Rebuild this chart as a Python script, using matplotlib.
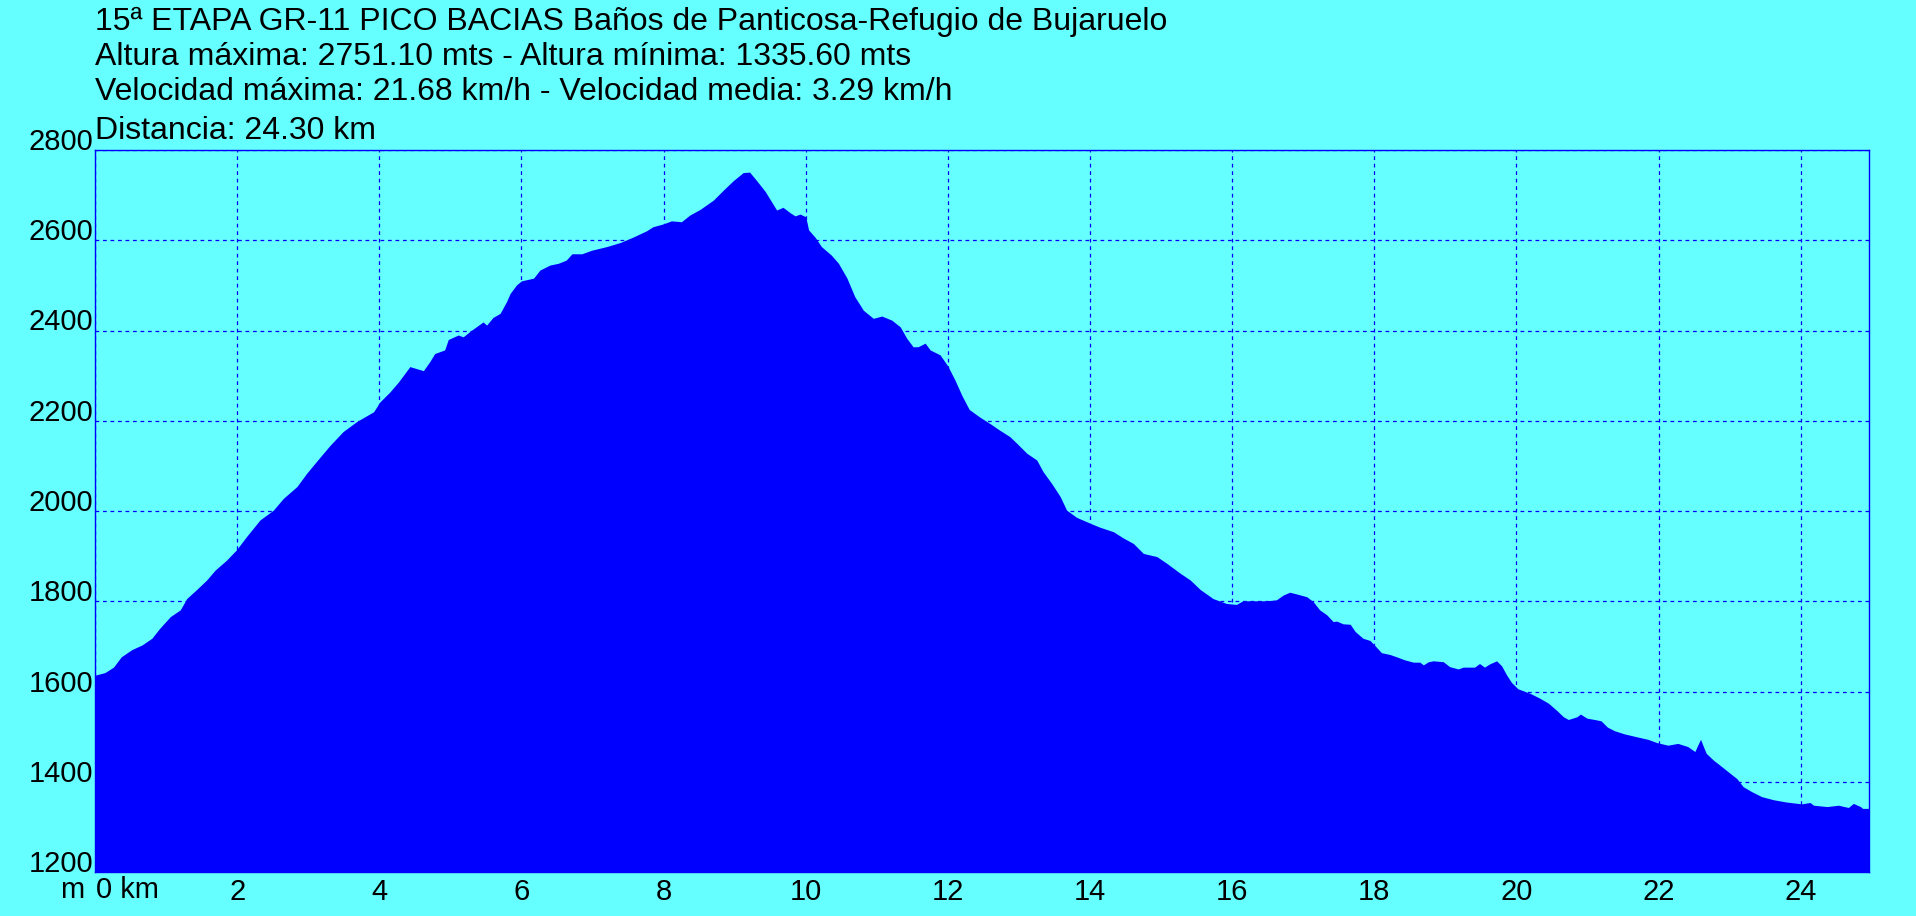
"""
Perfil de elevacion de la 15a etapa del GR-11 (Pico Bacias),
Banos de Panticosa - Refugio de Bujaruelo.
"""

import numpy as np
import matplotlib
matplotlib.use("Agg")
import matplotlib.pyplot as plt

# ---------------------------------------------------------------------------
# Data
# ---------------------------------------------------------------------------

dist_km = [
    0.00, 0.14, 0.26, 0.37, 0.52, 0.66, 0.80, 0.91, 1.06, 1.20, 1.29, 1.43,
    1.57, 1.69, 1.85, 1.99, 2.13, 2.32, 2.51, 2.65, 2.84, 2.98, 3.17, 3.31,
    3.49, 3.68, 3.92, 4.01, 4.15, 4.27, 4.43, 4.62, 4.71, 4.78, 4.92, 4.97,
    5.11, 5.18, 5.30, 5.46, 5.51, 5.60, 5.70, 5.79, 5.84, 5.93, 6.00, 6.17,
    6.26, 6.40, 6.52, 6.63, 6.71, 6.85, 6.99, 7.20, 7.39, 7.57, 7.76, 7.85,
    7.99, 8.11, 8.25, 8.37, 8.51, 8.70, 8.84, 8.98, 9.12, 9.21, 9.31, 9.43,
    9.52, 9.59, 9.68, 9.78, 9.85, 9.92, 10.00, 10.04, 10.13, 10.22, 10.36,
    10.46, 10.58, 10.69, 10.81, 10.95, 11.07, 11.21, 11.33, 11.42, 11.51,
    11.58, 11.68, 11.75, 11.89, 12.00, 12.10, 12.20, 12.30, 12.45, 12.60,
    12.73, 12.87, 12.97, 13.11, 13.25, 13.34, 13.46, 13.58, 13.67, 13.81,
    14.00, 14.14, 14.33, 14.47, 14.61, 14.75, 14.94, 15.08, 15.26, 15.41,
    15.55, 15.73, 15.92, 16.06, 16.15, 16.48, 16.62, 16.72, 16.81, 16.91,
    17.05, 17.14, 17.23, 17.33, 17.42, 17.47, 17.56, 17.66, 17.73, 17.84,
    17.94, 18.03, 18.10, 18.22, 18.31, 18.43, 18.55, 18.64, 18.69, 18.76,
    18.83, 18.97, 19.06, 19.18, 19.25, 19.41, 19.48, 19.55, 19.62, 19.72,
    19.79, 19.86, 19.93, 20.02, 20.19, 20.33, 20.45, 20.56, 20.66, 20.73,
    20.85, 20.90, 20.99, 21.13, 21.19, 21.28, 21.38, 21.52, 21.71, 21.85,
    21.97, 22.13, 22.27, 22.41, 22.51, 22.55, 22.59, 22.63, 22.67, 22.77,
    22.86, 22.98, 23.10, 23.19, 23.31, 23.45, 23.62, 23.80, 24.01, 24.13,
    24.18, 24.37, 24.53, 24.67, 24.74, 24.84, 24.87, 24.96,
]

elev_m = [
    1636, 1642, 1654, 1677, 1693, 1703, 1718, 1740, 1766, 1781, 1806, 1826,
    1847, 1869, 1891, 1914, 1943, 1980, 2002, 2028, 2054, 2084, 2120, 2146,
    2176, 2198, 2220, 2242, 2264, 2286, 2320, 2311, 2331, 2349, 2357, 2380,
    2390, 2386, 2401, 2419, 2412, 2429, 2438, 2464, 2482, 2501, 2510, 2516,
    2534, 2545, 2549, 2556, 2570, 2570, 2578, 2586, 2595, 2607, 2621, 2630,
    2636, 2643, 2641, 2656, 2668, 2689, 2711, 2732, 2750, 2751, 2732, 2708,
    2685, 2667, 2673, 2661, 2654, 2658, 2652, 2623, 2607, 2586, 2567,
    2549, 2516, 2475, 2445, 2427, 2432, 2423, 2408, 2383, 2364,
    2364, 2372, 2357, 2346, 2321, 2290, 2255, 2225, 2208, 2193,
    2179, 2165, 2150, 2128, 2113, 2087, 2061, 2032, 2002, 1986,
    1973, 1964, 1954, 1940, 1928, 1906, 1899, 1884, 1863, 1847,
    1826, 1806, 1795, 1793, 1801, 1801, 1803, 1814, 1820, 1816,
    1810, 1799, 1781, 1770, 1755, 1756, 1750, 1749, 1733, 1718,
    1713, 1698, 1686, 1682, 1677, 1670, 1665, 1665, 1659, 1666,
    1668, 1666, 1655, 1650, 1654, 1654, 1662, 1654, 1661, 1668,
    1657, 1637, 1620, 1606, 1596, 1585, 1574, 1559, 1544, 1538,
    1544, 1550, 1541, 1537, 1535, 1521, 1513, 1506, 1499, 1494,
    1487, 1481, 1485, 1478, 1467, 1481, 1494, 1478, 1463, 1448,
    1437, 1422, 1407, 1389, 1378, 1367, 1360, 1355, 1351, 1354,
    1348, 1345, 1348, 1343, 1352, 1345, 1341, 1341,
]

title_lines = [
    "15ª ETAPA GR-11 PICO BACIAS Baños de Panticosa-Refugio de Bujaruelo",
    "Altura máxima: 2751.10 mts - Altura mínima: 1335.60 mts",
    "Velocidad máxima: 21.68 km/h - Velocidad media: 3.29 km/h",
    "Distancia: 24.30 km",
]

x_ticks = [0, 2, 4, 6, 8, 10, 12, 14, 16, 18, 20, 22, 24]
y_ticks = [1200, 1400, 1600, 1800, 2000, 2200, 2400, 2600, 2800]

# ---------------------------------------------------------------------------
# Plot
# ---------------------------------------------------------------------------

BG = "#66FFFF"
BLUE = "#0000FF"
W, H = 1916, 916

plt.rcParams["font.family"] = ["Liberation Sans", "DejaVu Sans"]

fig = plt.figure(figsize=(W / 100, H / 100), dpi=100, facecolor=BG)
ax = fig.add_axes([95 / W, 1 - 872 / H, (1869 - 95) / W, (872 - 150) / H])
ax.set_facecolor(BG)

ax.fill_between(dist_km, elev_m, 1200, color=BLUE, linewidth=0, zorder=1)

ax.set_xlim(0, 24.96)
ax.set_ylim(1200, 2800)
ax.set_xticks(x_ticks)
ax.set_yticks(y_ticks)
ax.set_xticklabels([""] + [str(t) for t in x_ticks[1:]])
ax.set_yticklabels([str(t) for t in y_ticks])
ax.tick_params(length=0, labelsize=21, colors="black")
ax.tick_params(axis="x", pad=4)
ax.tick_params(axis="y", pad=1.5)
for lab in ax.get_yticklabels():
    lab.set_verticalalignment("baseline")

ax.grid(True, color=BLUE, linestyle=(0, (3, 3)), linewidth=0.9, zorder=2)
ax.set_axisbelow(False)
for sp in ax.spines.values():
    sp.set_color(BLUE)
    sp.set_linewidth(1.0)
    sp.set_zorder(3)

# "m" unit and "0 km" label below the origin
lab_y = 1 - 876 / H
fig.text(60 / W, lab_y, "m", fontsize=21, va="top", ha="left")
fig.text(96 / W, lab_y, "0 km", fontsize=21, va="top", ha="left")

for line, base in zip(title_lines, [30, 65, 100, 139]):
    fig.text(95 / W, 1 - base / H, line, fontsize=23, va="baseline", ha="left")

fig.savefig("out.png", dpi=100, facecolor=BG)
